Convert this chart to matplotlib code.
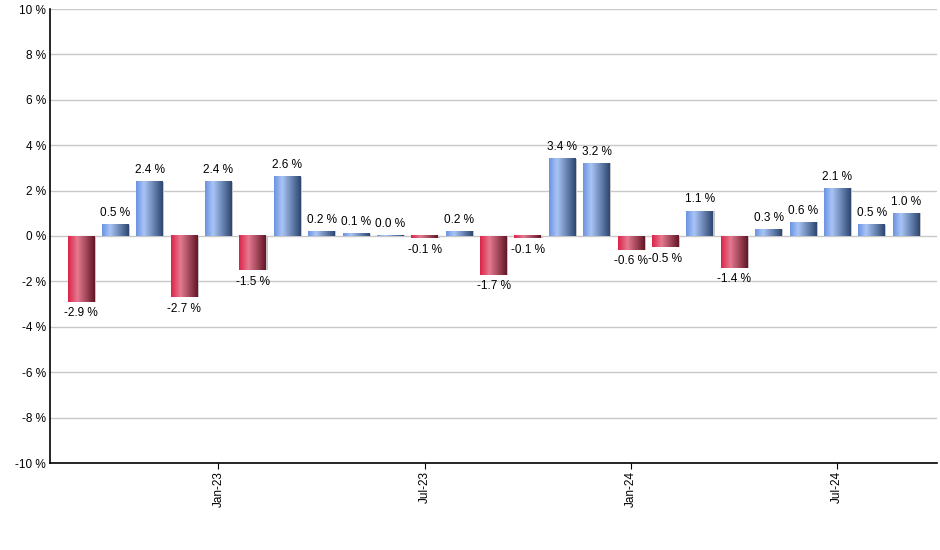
import numpy as np
import matplotlib.pyplot as plt
from matplotlib.colors import LinearSegmentedColormap

plt.rcParams['font.family'] = ['Liberation Sans', 'DejaVu Sans']

# monthly returns, Sep-22 .. Sep-24
months = ['Sep-22', 'Oct-22', 'Nov-22', 'Dec-22', 'Jan-23', 'Feb-23', 'Mar-23', 'Apr-23',
          'May-23', 'Jun-23', 'Jul-23', 'Aug-23', 'Sep-23', 'Oct-23', 'Nov-23', 'Dec-23',
          'Jan-24', 'Feb-24', 'Mar-24', 'Apr-24', 'May-24', 'Jun-24', 'Jul-24', 'Aug-24', 'Sep-24']
values = [-2.9, 0.5, 2.4, -2.7, 2.4, -1.5, 2.6, 0.2, 0.1, 0.0, -0.1, 0.2, -1.7, -0.1,
          3.4, 3.2, -0.6, -0.5, 1.1, -1.4, 0.3, 0.6, 2.1, 0.5, 1.0]
tick_months = ['Jan-23', 'Jul-23', 'Jan-24', 'Jul-24']
y_ticks = [-10, -8, -6, -4, -2, 0, 2, 4, 6, 8, 10]

blue_cmap = LinearSegmentedColormap.from_list(
    'blue', [(0, '#6b92e0'), (0.3, '#a9c5f6'), (1, '#2c4670')])
red_cmap = LinearSegmentedColormap.from_list(
    'red', [(0, '#dc2148'), (0.35, '#e57a90'), (1, '#621626')])

fig = plt.figure(figsize=(9.4, 5.5), dpi=100)
ax = fig.add_axes([50 / 940, 1 - 463 / 550, 887 / 940, 454 / 550])

x = np.arange(len(values))
bars = ax.bar(x, values, width=0.78, color='none', edgecolor='none', zorder=3)

grad = np.linspace(0, 1, 256).reshape(1, -1)
for b, v in zip(bars, values):
    x0, w, h = b.get_x(), b.get_width(), b.get_height()
    if h == 0:
        h = 0.03
    y0, y1 = min(0, h), max(0, h)
    # faint shadow on the right
    ax.add_patch(plt.Rectangle((x0 + 0.04, y0), w, y1 - y0, color='#c4c4c4', zorder=2.5, lw=0))
    ax.imshow(grad, cmap=blue_cmap if v >= 0 else red_cmap, aspect='auto',
              extent=(x0, x0 + w, y0, y1), zorder=3, interpolation='bilinear')
    label = f'{v:.1f} %'
    if v >= 0:
        ax.annotate(label, (x0 + w / 2, y1), xytext=(0, 4), textcoords='offset points',
                    ha='center', va='bottom', fontsize=8.5)
    else:
        ax.annotate(label, (x0 + w / 2, y0), xytext=(0, -4), textcoords='offset points',
                    ha='center', va='top', fontsize=8.5)

ax.set_xlim(-0.9, len(values) - 0.1)
ax.set_ylim(-10, 10)
ax.set_yticks(y_ticks)
ax.set_yticklabels([f'{t} %' for t in y_ticks], fontsize=8.5)
ax.set_xticks([months.index(m) for m in tick_months])
ax.set_xticklabels(tick_months, rotation=90, fontsize=8.5)
ax.tick_params(axis='y', length=0, pad=3)
ax.tick_params(axis='x', length=4, direction='out', pad=2)
ax.grid(axis='y', color='#c8c8c8', lw=1, zorder=0)
ax.set_axisbelow(True)
for s in ['top', 'right']:
    ax.spines[s].set_visible(False)
ax.spines['left'].set_linewidth(1.2)
ax.spines['bottom'].set_linewidth(1.2)

fig.savefig('out.png', dpi=100)
